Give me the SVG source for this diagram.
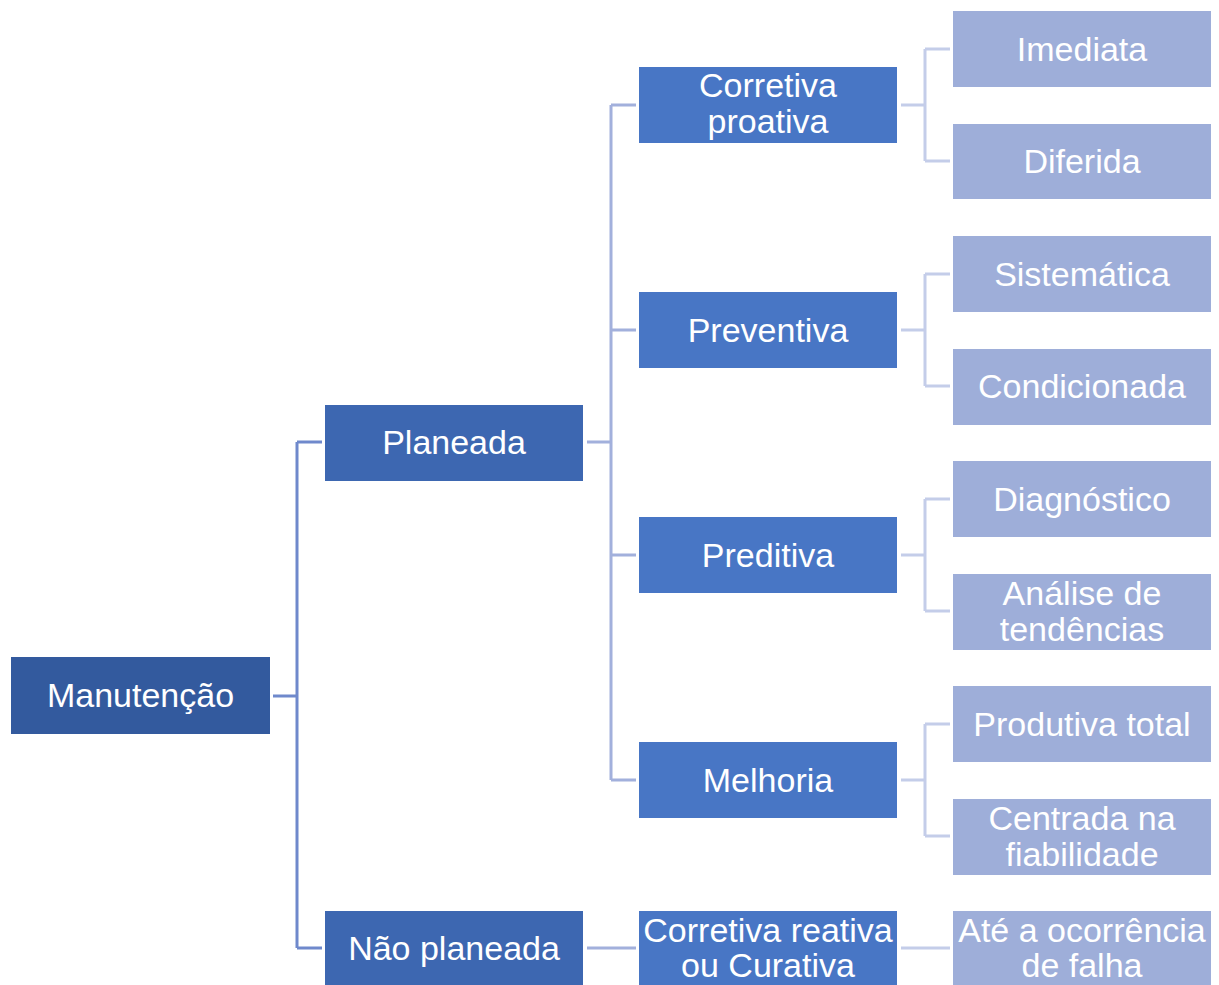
<svg xmlns="http://www.w3.org/2000/svg" width="1219" height="985" viewBox="0 0 1219 985">
<style>
text{font-family:"Liberation Sans",Arial,sans-serif;font-size:34px;fill:#fff;text-anchor:middle}
.l0{fill:#335a9e}
.l1{fill:#3d67b1}
.l2{fill:#4876c5}
.l3{fill:#9eaed9}
.c0{stroke:#6f89cc;stroke-width:3;fill:none}
.c1{stroke:#a2b0dc;stroke-width:3;fill:none}
.c2{stroke:#c4cde9;stroke-width:3;fill:none}
</style>
<rect width="1219" height="985" fill="#fff"/>
<g id="connectors">
<path class="c0" d="M273 696H297M297 442V948M297 442H322M297 948H322"/>
<path class="c1" d="M587 442H611M611 105V780M611 105H636M611 330H636M611 555H636M611 780H636M587 948H636"/>
<path class="c2" d="M901 105H925M925 49V161M925 49H950M925 161H950"/>
<path class="c2" d="M901 330H925M925 274V386M925 274H950M925 386H950"/>
<path class="c2" d="M901 555H925M925 499V611M925 499H950M925 611H950"/>
<path class="c2" d="M901 780H925M925 724V836M925 724H950M925 836H950"/>
<path class="c2" d="M901 948H950"/>
</g>
<g id="manutencao"><rect class="l0" x="11" y="657" width="259" height="77"/><text x="140.5" y="707">Manutenção</text></g>
<g id="planeada"><rect class="l1" x="325" y="405" width="258" height="76"/><text x="454" y="454">Planeada</text></g>
<g id="nao-planeada"><rect class="l1" x="325" y="911" width="258" height="77"/><text x="454" y="960">Não planeada</text></g>
<g id="corretiva-proativa"><rect class="l2" x="639" y="67" width="258" height="76"/><text x="768" y="97">Corretiva</text><text x="768" y="133">proativa</text></g>
<g id="preventiva"><rect class="l2" x="639" y="292" width="258" height="76"/><text x="768" y="342">Preventiva</text></g>
<g id="preditiva"><rect class="l2" x="639" y="517" width="258" height="76"/><text x="768" y="567">Preditiva</text></g>
<g id="melhoria"><rect class="l2" x="639" y="742" width="258" height="76"/><text x="768" y="792">Melhoria</text></g>
<g id="corretiva-reativa"><rect class="l2" x="639" y="911" width="258" height="77"/><text x="768" y="942">Corretiva reativa</text><text x="768" y="977">ou Curativa</text></g>
<g id="imediata"><rect class="l3" x="953" y="11" width="258" height="76"/><text x="1082" y="61">Imediata</text></g>
<g id="diferida"><rect class="l3" x="953" y="124" width="258" height="75"/><text x="1082" y="173">Diferida</text></g>
<g id="sistematica"><rect class="l3" x="953" y="236" width="258" height="76"/><text x="1082" y="286">Sistemática</text></g>
<g id="condicionada"><rect class="l3" x="953" y="349" width="258" height="76"/><text x="1082" y="398">Condicionada</text></g>
<g id="diagnostico"><rect class="l3" x="953" y="461" width="258" height="76"/><text x="1082" y="511">Diagnóstico</text></g>
<g id="analise"><rect class="l3" x="953" y="574" width="258" height="76"/><text x="1082" y="605">Análise de</text><text x="1082" y="641">tendências</text></g>
<g id="produtiva"><rect class="l3" x="953" y="686" width="258" height="76"/><text x="1082" y="736">Produtiva total</text></g>
<g id="centrada"><rect class="l3" x="953" y="799" width="258" height="76"/><text x="1082" y="830">Centrada na</text><text x="1082" y="866">fiabilidade</text></g>
<g id="ate"><rect class="l3" x="953" y="911" width="258" height="77"/><text x="1082" y="942">Até a ocorrência</text><text x="1082" y="977">de falha</text></g>
</svg>
